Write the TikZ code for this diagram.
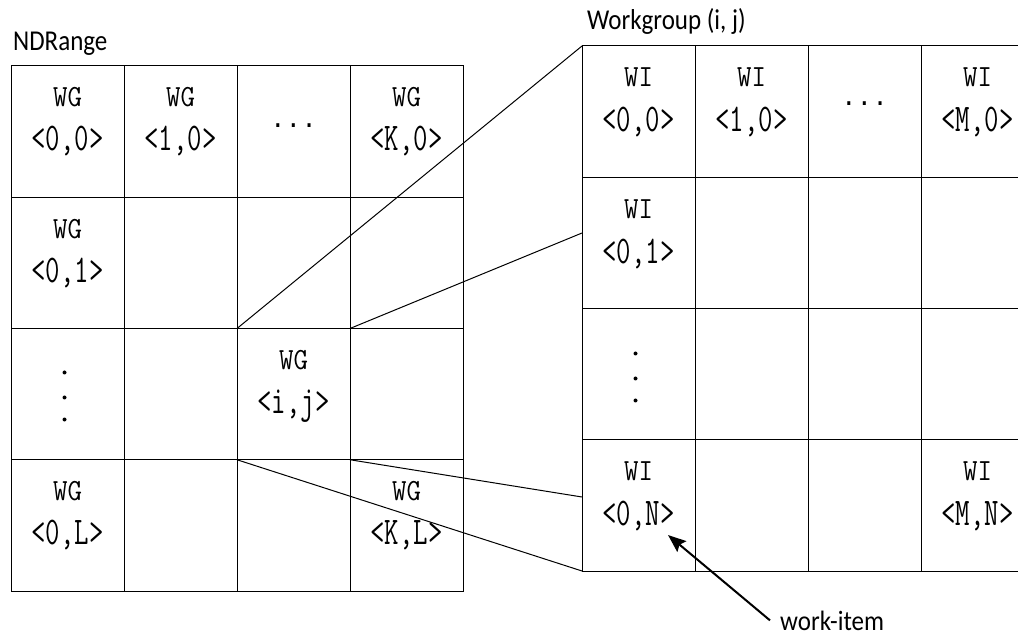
\documentclass[tikz,border=0pt]{standalone}
\usepackage{fontspec}
\usetikzlibrary{arrows.meta,calc}
\newfontfamily\dotfam{Liberation Mono}
\newfontfamily\labfam{Carlito}
\newcommand{\mytop}[1]{\scalebox{1}[1.1]{#1}}
\newcommand{\mybot}[1]{\scalebox{1}[1.4]{#1}}
\tikzset{
  cell/.style={draw, line width=1pt, minimum width=113pt, minimum height=131.25pt, inner sep=0pt, outer sep=0pt},
  mono/.style={font=\ttfamily\fontsize{28}{28}\selectfont, anchor=base, inner sep=0pt},
  dotm/.style={font=\dotfam\fontsize{26}{26}\selectfont, anchor=base, inner sep=0pt},
  vdot/.style={circle, fill=black, inner sep=0pt, minimum size=4pt},
  lab/.style={font=\labfam\fontsize{25}{25}\selectfont, inner sep=0pt},
  conn/.style={line width=1pt},
  arr/.style={line width=2pt, -{Stealth[length=18pt,width=14pt,inset=3pt]}}
}
\begin{document}
\begin{tikzpicture}[x=1pt,y=-1pt]
\useasboundingbox (0,0) rectangle (1018,636);
\clip (0,0) rectangle (1018,636);
% left grid
\foreach \c in {0,...,3}{
  \foreach \r in {0,...,3}{
    \node[cell] (L\c\r) at ({11+113*\c+56.5},{66+131.25*\r+65.625}) {};
  }
}
% right grid
\foreach \c in {0,...,3}{
  \foreach \r in {0,...,3}{
    \node[cell] (R\c\r) at ({582+113*\c+56.5},{46+131.25*\r+65.625}) {};
  }
}
% titles
\node[lab, anchor=base west] (nd) at (13,51) {\scalebox{1}[1.15]{NDRange}};
\node[lab, anchor=base west] (wgt) at (587,30) {\scalebox{1}[1.15]{Workgroup (i, j)}};
% left texts
\node[mono] (L00a) at ($(L00.north)+(0,41)$) {\mytop{WG}};
\node[mono] (L00b) at ($(L00.north)+(0,85)$) {\mybot{<0,0>}};
\node[mono] (L10a) at ($(L10.north)+(0,41)$) {\mytop{WG}};
\node[mono] (L10b) at ($(L10.north)+(0,85)$) {\mybot{<1,0>}};
\node[dotm] (L20a) at ($(L20.north)+(0,62)$) {...};
\node[mono] (L30a) at ($(L30.north)+(0,41)$) {\mytop{WG}};
\node[mono] (L30b) at ($(L30.north)+(0,85)$) {\mybot{<K,0>}};
\node[mono] (L01a) at ($(L01.north)+(0,41)$) {\mytop{WG}};
\node[mono] (L01b) at ($(L01.north)+(0,85)$) {\mybot{<0,1>}};
\node[vdot] (L02a) at ($(L02.north)+(-3,44)$) {};
\node[vdot] (L02b) at ($(L02.north)+(-3,69)$) {};
\node[vdot] (L02c) at ($(L02.north)+(-3,91)$) {};
\node[mono] (L22a) at ($(L22.north)+(0,41)$) {\mytop{WG}};
\node[mono] (L22b) at ($(L22.north)+(0,85)$) {\mybot{<i,j>}};
\node[mono] (L03a) at ($(L03.north)+(0,41)$) {\mytop{WG}};
\node[mono] (L03b) at ($(L03.north)+(0,85)$) {\mybot{<0,L>}};
\node[mono] (L33a) at ($(L33.north)+(0,41)$) {\mytop{WG}};
\node[mono] (L33b) at ($(L33.north)+(0,85)$) {\mybot{<K,L>}};
% right texts
\node[mono] (R00a) at ($(R00.north)+(0,41)$) {\mytop{WI}};
\node[mono] (R00b) at ($(R00.north)+(0,86)$) {\mybot{<0,0>}};
\node[mono] (R10a) at ($(R10.north)+(0,41)$) {\mytop{WI}};
\node[mono] (R10b) at ($(R10.north)+(0,86)$) {\mybot{<1,0>}};
\node[dotm] (R20a) at ($(R20.north)+(0,60)$) {...};
\node[mono] (R30a) at ($(R30.north)+(0,41)$) {\mytop{WI}};
\node[mono] (R30b) at ($(R30.north)+(0,86)$) {\mybot{<M,0>}};
\node[mono] (R01a) at ($(R01.north)+(0,41)$) {\mytop{WI}};
\node[mono] (R01b) at ($(R01.north)+(0,86)$) {\mybot{<0,1>}};
\node[vdot] (R02a) at ($(R02.north)+(-3,45)$) {};
\node[vdot] (R02b) at ($(R02.north)+(-3,70)$) {};
\node[vdot] (R02c) at ($(R02.north)+(-3,92)$) {};
\node[mono] (R03a) at ($(R03.north)+(0,41)$) {\mytop{WI}};
\node[mono] (R03b) at ($(R03.north)+(0,86)$) {\mybot{<0,N>}};
\node[mono] (R33a) at ($(R33.north)+(0,41)$) {\mytop{WI}};
\node[mono] (R33b) at ($(R33.north)+(0,86)$) {\mybot{<M,N>}};
% connectors
\coordinate (p1) at (582,233);
\coordinate (p2) at (582,497);
\draw[conn] (L22.north west) -- (R00.north west);
\draw[conn] (L22.north east) -- (p1);
\draw[conn] (L22.south west) -- (R03.south west);
\draw[conn] (L22.south east) -- (p2);
% work-item
\node[lab, anchor=base west, inner xsep=10pt, inner ysep=0pt] (wi) at (770,630) {\scalebox{1}[1.12]{work-item}};
\coordinate (tip) at (668,535);
\draw[arr] (wi.west) -- (tip);
\end{tikzpicture}
\end{document}
